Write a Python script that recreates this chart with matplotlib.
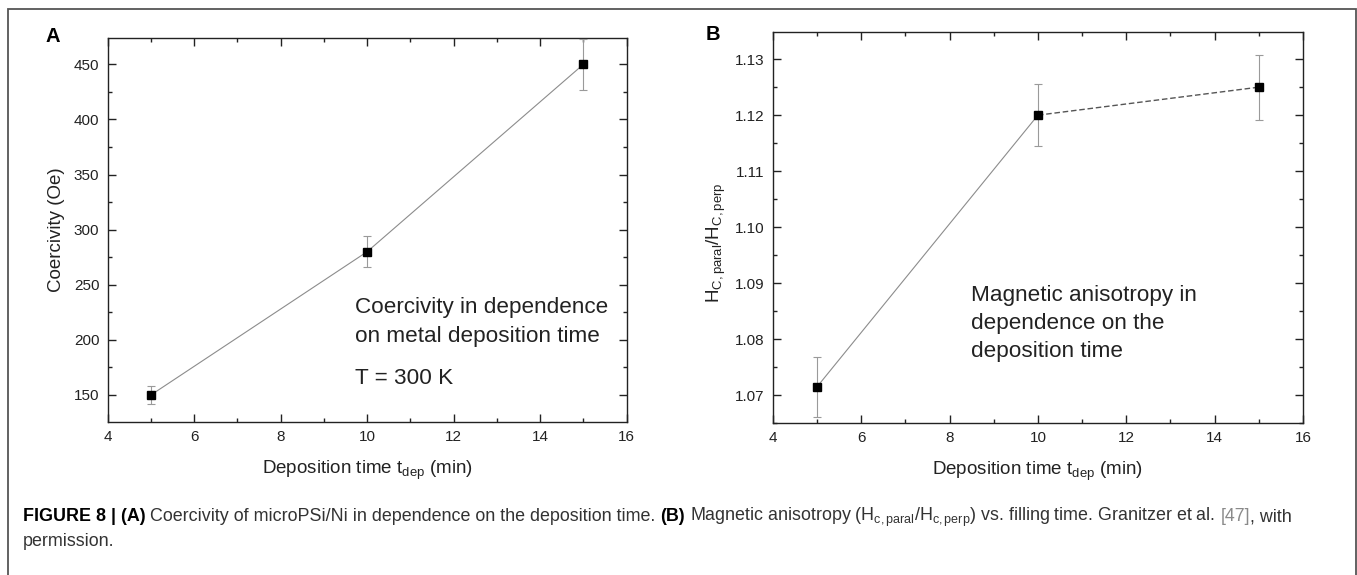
import matplotlib
matplotlib.use('Agg')
import matplotlib.pyplot as plt
from matplotlib.patches import Rectangle
from matplotlib.ticker import FixedLocator, MultipleLocator, FormatStrFormatter

# ---------------- data ----------------
dep_time = [5, 10, 15]
coercivity = [150, 280, 450]
coercivity_err = [8, 14, 23]
anisotropy = [1.0715, 1.120, 1.125]
anisotropy_err = [0.0053, 0.0055, 0.0058]

x_ticks = [4, 6, 8, 10, 12, 14, 16]
a_yticks = [150, 200, 250, 300, 350, 400, 450]
b_yticks = [1.07, 1.08, 1.09, 1.10, 1.11, 1.12, 1.13]

a_note = ["Coercivity in dependence", "on metal deposition time"]
a_temp = "T = 300 K"
b_note = ["Magnetic anisotropy in", "dependence on the", "deposition time"]

# ---------------- style ----------------
plt.rcParams['font.family'] = ['Liberation Sans', 'DejaVu Sans']
plt.rcParams['mathtext.fontset'] = 'custom'
plt.rcParams['mathtext.rm'] = 'Liberation Sans'
plt.rcParams['mathtext.it'] = 'Liberation Sans:italic'
plt.rcParams['mathtext.bf'] = 'Liberation Sans:bold'

W, H, DPI = 1357, 575, 100
fig = plt.figure(figsize=(W / DPI, H / DPI), dpi=DPI)
fig.patch.set_facecolor('white')


def px(x, y):
    return x / W, 1 - y / H


def axes_px(l, t, r, b):
    return [l / W, 1 - b / H, (r - l) / W, (b - t) / H]


TXT = '#222222'


def style(ax):
    ax.tick_params(which='both', direction='in', top=True, right=True,
                   width=1.0, color=TXT, labelcolor=TXT, labelsize=11)
    ax.tick_params(axis='x', pad=5.5)
    ax.tick_params(axis='y', pad=6)
    ax.tick_params(which='major', length=5.5)
    ax.tick_params(which='minor', length=3)
    for s in ax.spines.values():
        s.set_linewidth(1.0)
        s.set_color(TXT)


# ---------------- panel A ----------------
axA = fig.add_axes(axes_px(107.7, 37.7, 626.6, 422.3))
axA.plot(dep_time, coercivity, color='#8c8c8c', lw=0.8, zorder=2)
axA.errorbar(dep_time, coercivity, yerr=coercivity_err, fmt='none',
             ecolor='#9a9a9a', elinewidth=0.8, capsize=2.8, capthick=0.8, zorder=3)
axA.plot(dep_time, coercivity, 's', color='black', ms=5.5, zorder=4)
axA.set_xlim(4, 16)
axA.set_ylim(125.2, 474.2)
axA.xaxis.set_major_locator(FixedLocator(x_ticks))
axA.xaxis.set_minor_locator(MultipleLocator(1))
axA.yaxis.set_major_locator(FixedLocator(a_yticks))
axA.yaxis.set_minor_locator(MultipleLocator(25))
style(axA)
axA.set_xlabel(r"Deposition time t$_{\mathrm{dep}}$ (min)", fontsize=13.5, color=TXT, labelpad=11)
axA.set_ylabel("Coercivity (Oe)", fontsize=13.5, color=TXT)
axA.yaxis.set_label_coords(-0.082, 0.5)

# ---------------- panel B ----------------
axB = fig.add_axes(axes_px(772.8, 31.7, 1303, 423.3))
axB.plot(dep_time[:2], anisotropy[:2], color='#8c8c8c', lw=0.8, zorder=2)
axB.plot(dep_time[1:], anisotropy[1:], color='#555555', lw=1.0, ls=(0, (4, 2)), zorder=2)
axB.errorbar(dep_time, anisotropy, yerr=anisotropy_err, fmt='none',
             ecolor='#9a9a9a', elinewidth=0.8, capsize=2.8, capthick=0.8, zorder=3)
axB.plot(dep_time, anisotropy, 's', color='black', ms=5.5, zorder=4)
axB.set_xlim(4, 16)
axB.set_ylim(1.0650, 1.1349)
axB.xaxis.set_major_locator(FixedLocator(x_ticks))
axB.xaxis.set_minor_locator(MultipleLocator(1))
axB.yaxis.set_major_locator(FixedLocator(b_yticks))
axB.yaxis.set_minor_locator(MultipleLocator(0.005))
axB.yaxis.set_major_formatter(FormatStrFormatter('%.2f'))
style(axB)
axB.set_xlabel(r"Deposition time t$_{\mathrm{dep}}$ (min)", fontsize=13.5, color=TXT, labelpad=11)
axB.set_ylabel(r"H$_{\mathrm{C,paral}}$/H$_{\mathrm{C,perp}}$", fontsize=13.5, color=TXT)
axB.yaxis.set_label_coords(-0.085, 0.46)

# ---------------- annotations ----------------
for line, yb in zip(a_note, [313, 341.7]):
    fig.text(*px(354.7, yb), line, fontsize=16.2, color=TXT, ha='left', va='baseline')
fig.text(*px(354.7, 384), a_temp, fontsize=16.2, color=TXT, ha='left', va='baseline')
for line, yb in zip(b_note, [300.7, 328.5, 356.7]):
    fig.text(*px(970.6, yb), line, fontsize=16.2, color=TXT, ha='left', va='baseline')

fig.text(*px(45, 42), "A", fontsize=14.5, fontweight='bold', ha='left', va='baseline')
fig.text(*px(706, 40.5), "B", fontsize=14.5, fontweight='bold', ha='left', va='baseline')

# ---------------- frame ----------------
fig.add_artist(Rectangle((7.5 / W, -0.05), (1355.5 - 7.5) / W, 1 - 8.5 / H + 0.05,
                         transform=fig.transFigure, fill=False, ec='#555555', lw=1.3,
                         clip_on=False))

# ---------------- caption ----------------
cap_pieces = [
    ("FIGURE 8 | (A)", 'bold', 'black', False),
    ("Coercivity of microPSi/Ni in dependence on the deposition time.", 'normal', '#333333', True),
    ("(B)", 'bold', 'black', True),
    (r"Magnetic anisotropy (H$_{\mathrm{c,paral}}$/H$_{\mathrm{c,perp}}$) vs. filling time. Granitzer et al.",
     'normal', '#333333', True),
    ("[47]", 'normal', '#8a8a8a', True),
    (", with", 'normal', '#333333', False),
]
cap_line2 = "permission."

renderer = fig.canvas.get_renderer()


def text_width(s, weight, size):
    t = fig.text(0, 0, s, fontsize=size, fontweight=weight)
    w = t.get_window_extent(renderer).width
    t.remove()
    return w


def layout_width(size):
    total = 0.0
    sp = text_width("a a", 'normal', size) - text_width("aa", 'normal', size)
    offs = []
    for s, wgt, col, lead in cap_pieces:
        if lead:
            total += sp
        offs.append(total)
        total += text_width(s, wgt, size)
    return total, offs


x0, x1 = 22.7, 1298.0
base = 10.0
tw, _ = layout_width(base)
size = base * (x1 - x0) / tw
tw, offs = layout_width(size)
size = size * (x1 - x0) / tw
tw, offs = layout_width(size)
for (s, wgt, col, lead), o in zip(cap_pieces, offs):
    fig.text(*px(x0 + o, 521), s, fontsize=size, fontweight=wgt, color=col,
             ha='left', va='baseline')
fig.text(*px(x0, 546), cap_line2, fontsize=size, color='#333333', ha='left', va='baseline')

fig.savefig('out.png', dpi=DPI, facecolor='white')
